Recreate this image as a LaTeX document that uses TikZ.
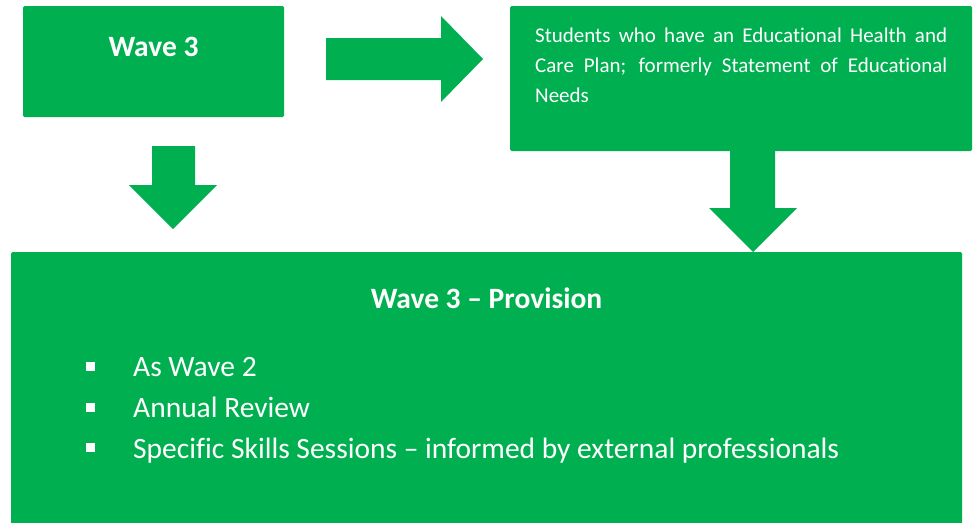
\documentclass[tikz,border=0pt]{standalone}
\usepackage{fontspec}
\setmainfont{Carlito}[RawFeature=-liga]
\definecolor{wgreen}{HTML}{00B050}
\begin{document}
\begin{tikzpicture}[x=1pt,y=-1pt,
  box/.style={fill=wgreen,draw=none,rounded corners=1.5pt},
  blockarrow/.style={fill=wgreen,draw=none},
  bigtxt/.style={text=white,inner sep=0pt,font=\fontsize{29.5}{35}\selectfont},
  smalltxt/.style={text=white,inner sep=0pt,font=\fontsize{21}{30}\selectfont},
  bul/.style={fill=white,draw=none}]
\useasboundingbox (0,0) rectangle (973,522);
% boxes
\path[box] (23,6) rectangle (284,117);
\path[box] (510,6) rectangle (972,151);
\path[box] (11,252) rectangle (962,530);
% arrows
\path[blockarrow] (326,38) -- (441,38) -- (441,16) -- (483,59) -- (441,102) -- (441,80) -- (326,80) -- cycle;
\path[blockarrow] (152,146) -- (195,146) -- (195,185) -- (217,185) -- (173,229) -- (129,185) -- (152,185) -- cycle;
\path[blockarrow] (730,151) -- (775,151) -- (775,208) -- (797,208) -- (753,252) -- (709,208) -- (730,208) -- cycle;
% texts
\node[bigtxt,anchor=base,font=\fontsize{29.5}{35}\selectfont\bfseries] (t1) at (153.5,56) {Wave 3};
\node[smalltxt,anchor=base west] (t2a) at (535,42) {\makebox[412pt][s]{Students who have an Educational Health and}};
\node[smalltxt,anchor=base west] (t2b) at (535,72) {\makebox[412pt][s]{Care Plan; formerly Statement of Educational}};
\node[smalltxt,anchor=base west] (t2c) at (535,102) {Needs};
\node[bigtxt,anchor=base,font=\fontsize{29.5}{35}\selectfont\bfseries] (t3) at (486.5,308) {Wave 3 – Provision};
\fill[bul] (86,362) rectangle (95,371);
\fill[bul] (86,403) rectangle (95,412);
\fill[bul] (86,443) rectangle (95,452);
\node[bigtxt,anchor=base west] (l1) at (133,376) {As Wave 2};
\node[bigtxt,anchor=base west] (l2) at (133,417) {Annual Review};
\node[bigtxt,anchor=base west] (l3) at (133,458) {Specific Skills Sessions – informed by external professionals};
\end{tikzpicture}
\end{document}
